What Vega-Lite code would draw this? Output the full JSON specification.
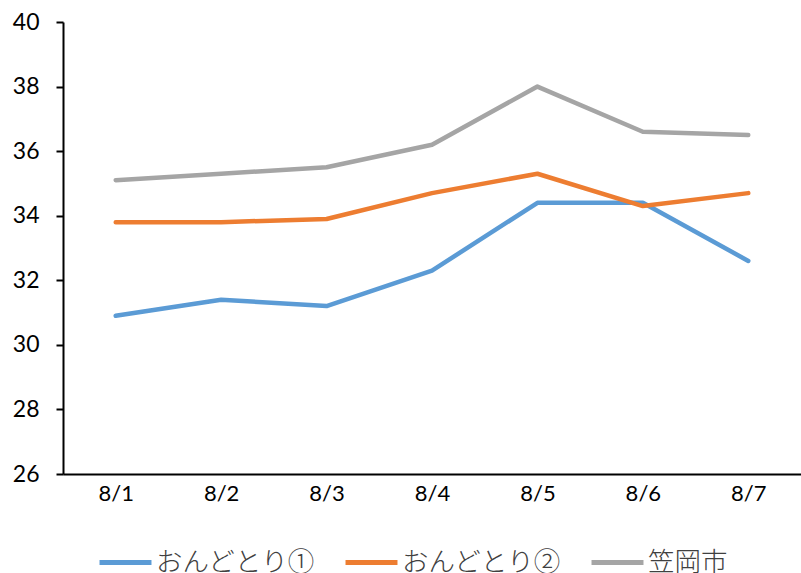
{
  "$schema": "https://vega.github.io/schema/vega-lite/v6.json",
  "autosize": "none",
  "width": 738,
  "height": 452,
  "padding": {"left": 63, "top": 22, "right": 0, "bottom": 99},
  "background": "white",
  "config": {"view": {"stroke": null}},
  "data": {"values": [
    {"date": "8/1", "series": "おんどとり①", "v": 30.9},
    {"date": "8/2", "series": "おんどとり①", "v": 31.4},
    {"date": "8/3", "series": "おんどとり①", "v": 31.2},
    {"date": "8/4", "series": "おんどとり①", "v": 32.3},
    {"date": "8/5", "series": "おんどとり①", "v": 34.4},
    {"date": "8/6", "series": "おんどとり①", "v": 34.4},
    {"date": "8/7", "series": "おんどとり①", "v": 32.6},
    {"date": "8/1", "series": "おんどとり②", "v": 33.8},
    {"date": "8/2", "series": "おんどとり②", "v": 33.8},
    {"date": "8/3", "series": "おんどとり②", "v": 33.9},
    {"date": "8/4", "series": "おんどとり②", "v": 34.7},
    {"date": "8/5", "series": "おんどとり②", "v": 35.3},
    {"date": "8/6", "series": "おんどとり②", "v": 34.3},
    {"date": "8/7", "series": "おんどとり②", "v": 34.7},
    {"date": "8/1", "series": "笠岡市", "v": 35.1},
    {"date": "8/2", "series": "笠岡市", "v": 35.3},
    {"date": "8/3", "series": "笠岡市", "v": 35.5},
    {"date": "8/4", "series": "笠岡市", "v": 36.2},
    {"date": "8/5", "series": "笠岡市", "v": 38.0},
    {"date": "8/6", "series": "笠岡市", "v": 36.6},
    {"date": "8/7", "series": "笠岡市", "v": 36.5}
  ]},
  "mark": {"type": "line", "strokeWidth": 4.5, "strokeJoin": "round", "strokeCap": "round"},
  "encoding": {
    "x": {
      "field": "date", "type": "ordinal", "sort": null,
      "scale": {"type": "point", "padding": 0.5},
      "axis": {
        "title": null, "labelAngle": 0, "ticks": false, "grid": false,
        "domainColor": "#000000", "domainWidth": 2,
        "labelFont": "Lato", "labelFontSize": 22, "labelColor": "#000000",
        "labelPadding": 9
      }
    },
    "y": {
      "field": "v", "type": "quantitative",
      "scale": {"domain": [26, 40], "nice": false, "zero": false},
      "axis": {
        "title": null, "values": [26, 28, 30, 32, 34, 36, 38, 40],
        "grid": false, "domainColor": "#000000", "domainWidth": 2,
        "tickColor": "#000000", "tickWidth": 2, "tickSize": 7,
        "labelFont": "Lato", "labelFontSize": 23, "labelColor": "#000000",
        "labelPadding": 17
      }
    },
    "color": {
      "field": "series", "type": "nominal",
      "scale": {"domain": ["おんどとり①", "おんどとり②", "笠岡市"], "range": ["#5B9BD5", "#ED7D31", "#A5A5A5"]},
      "legend": {
        "title": null, "orient": "none", "direction": "horizontal",
        "legendX": 34, "legendY": 512,
        "symbolType": "stroke", "symbolSize": 2700, "symbolStrokeWidth": 5,
        "labelFont": "Noto Sans CJK JP", "labelFontSize": 26.5, "labelFontWeight": 300, "labelColor": "#404040",
        "labelOffset": 2, "columnPadding": 20, "labelLimit": 300
      }
    }
  }
}
